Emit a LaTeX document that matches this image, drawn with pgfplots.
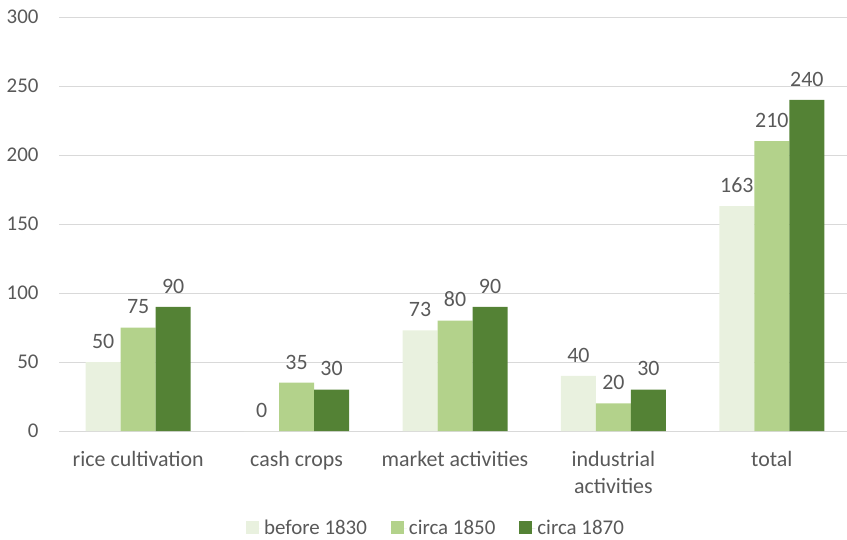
\documentclass[border=0pt]{standalone}
\usepackage{pgfplots}
\pgfplotsset{compat=1.18}
\usepackage{fontspec}
\setmainfont{Carlito}
\definecolor{cA}{HTML}{E9F1DF}
\definecolor{cB}{HTML}{B3D28B}
\definecolor{cC}{HTML}{548235}
\definecolor{txt}{HTML}{595959}
\definecolor{grd}{HTML}{D9D9D9}
\begin{document}
\begin{tikzpicture}
\path[use as bounding box] (-59bp,-109bp) rectangle (788bp,431bp);
\begin{axis}[
  scale only axis,
  width=792bp, height=414bp,
  ymin=0, ymax=300,
  xmin=-0.5, xmax=4.5,
  ytick={0,50,...,300},
  xtick=data,
  xticklabels={rice cultivation, cash crops, market activities, {industrial\\activities}, total},
  x tick label style={align=center, font=\fontsize{22}{27}\selectfont, text=txt, yshift=-13bp},
  y tick label style={font=\fontsize{21}{25}\selectfont, text=txt, xshift=-17bp},
  /pgf/number format/assume math mode=true,
  ymajorgrids,
  grid style={grd, line width=0.9pt},
  axis line style={draw=none},
  major tick style={draw=none},
  ybar=0pt,
  bar width=35bp,
  nodes near coords,
  every node near coord/.append style={font=\fontsize{22}{26}\selectfont, text=txt, yshift=10bp},
  legend style={at={(0.5,-0.235)}, xshift=-19bp, anchor=center, draw=none, legend columns=-1,
    font=\fontsize{21}{25}\selectfont, text=txt,
    /tikz/every even column/.append style={column sep=22bp}},
  legend image code/.code={\fill[#1] (0bp,-6bp) rectangle (13bp,7bp); \path (0bp,0bp) -- (16bp,0bp);},
]
\addplot[fill=cA, draw=none] coordinates {(0,50) (1,0) (2,73) (3,40) (4,163)};
\addplot[fill=cB, draw=none] coordinates {(0,75) (1,35) (2,80) (3,20) (4,210)};
\addplot[fill=cC, draw=none] coordinates {(0,90) (1,30) (2,90) (3,30) (4,240)};
\legend{before 1830, circa 1850, circa 1870}
\end{axis}
\end{tikzpicture}
\end{document}
